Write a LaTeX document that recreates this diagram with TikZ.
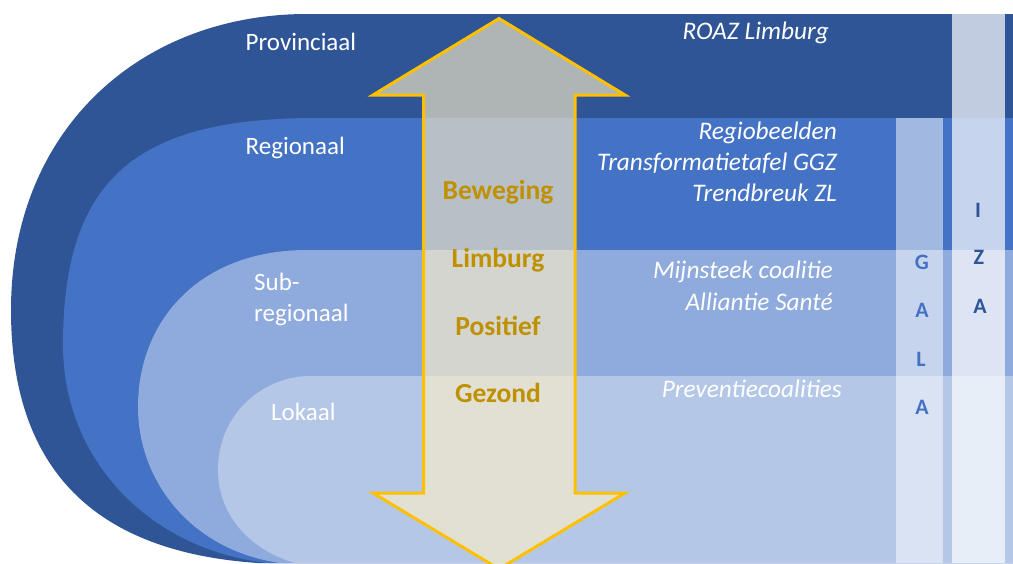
\documentclass[tikz,border=0pt]{standalone}
\usepackage{fontspec}
\setmainfont{Carlito}
\definecolor{prov}{HTML}{2F5597}
\definecolor{regio}{HTML}{4472C4}
\definecolor{subr}{HTML}{8FAADC}
\definecolor{lok}{HTML}{B4C7E7}
\definecolor{arrowline}{HTML}{FFC000}
\definecolor{arrowfill}{RGB}{255,240,200}
\definecolor{arrowtext}{HTML}{BF9000}
\tikzset{
  levellabel/.style={text=white, anchor=base west, inner sep=0pt, font=\fontsize{25}{30}\selectfont},
  initiative/.style={text=white, anchor=base east, inner sep=0pt, font=\fontsize{25.3}{30}\selectfont\itshape},
  arrowword/.style={text=arrowtext, anchor=base, inner sep=0pt, font=\fontsize{27.5}{33}\selectfont\bfseries},
  galaletter/.style={text=regio, anchor=center, inner sep=0pt, font=\fontsize{22}{26}\selectfont\bfseries},
  izaletter/.style={text=prov, anchor=center, inner sep=0pt, font=\fontsize{22}{26}\selectfont\bfseries},
  bigarrow/.style={draw=arrowline, line width=3pt, line join=miter, fill=arrowfill, fill opacity=0.62}
}
\begin{document}
\begin{tikzpicture}[x=1pt,y=-1pt]
\useasboundingbox (0,0) rectangle (1013,563);
\begin{scope}
\clip (0,0) rectangle (1013,563);
% levels
\fill[prov] (1013,14) -- (307,14) .. controls (140,14) and (11,130) .. (11,310)
  .. controls (11,470) and (95,552) .. (258,563) -- (1013,563) -- cycle;
\fill[regio] (1013,118) -- (317,118) .. controls (140,118) and (63,175) .. (63,345)
  .. controls (63,460) and (150,550) .. (268,563) -- (1013,563) -- cycle;
\fill[subr] (1013,250) -- (307,250) .. controls (200,250) and (138,320) .. (138,407)
  .. controls (138,480) and (190,550) .. (280,563) -- (1013,563) -- cycle;
\fill[lok] (1013,376) -- (310,376) .. controls (265,376) and (218,412) .. (218,470)
  .. controls (218,515) and (250,550) .. (295,563) -- (1013,563) -- cycle;
% vertical bars
\fill[white, opacity=0.5] (896,118) rectangle (943,563);
\fill[white, opacity=0.7] (952,14) rectangle (1005,563);
% double arrow
\draw[bigarrow] (499,18.5) -- (625,95) -- (575,95) -- (575,493) -- (625,493) -- (499,569)
  -- (373,493) -- (423.5,493) -- (423.5,95) -- (373,95) -- cycle;
\end{scope}
% level labels
\node[levellabel] (provinciaal) at (245.5,50) {Provinciaal};
\node[levellabel] (regionaal) at (245.5,154) {Regionaal};
\node[levellabel] (sub) at (254,290) {Sub-};
\node[levellabel] (subregionaal) at (254,321) {regionaal};
\node[levellabel] (lokaal) at (271,420) {Lokaal};
% initiatives
\node[initiative] (roaz) at (829,39) {ROAZ Limburg};
\node[initiative] (regiobeelden) at (837,139) {Regiobeelden};
\node[initiative] (transformatie) at (837,170) {Transformatietafel GGZ};
\node[initiative] (trendbreuk) at (837,201) {Trendbreuk ZL};
\node[initiative] (mijnsteek) at (833,278) {Mijnsteek coalitie};
\node[initiative] (alliantie) at (833,310) {Alliantie Santé};
\node[initiative] (preventie) at (842,397) {Preventiecoalities};
% arrow words
\node[arrowword] (beweging) at (498,199) {Beweging};
\node[arrowword] (limburg) at (498,267) {Limburg};
\node[arrowword] (positief) at (498,335) {Positief};
\node[arrowword] (gezond) at (498,402) {Gezond};
% GALA
\node[galaletter] (g1) at (922,262) {G};
\node[galaletter] (g2) at (922,310) {A};
\node[galaletter] (g3) at (921,359) {L};
\node[galaletter] (g4) at (922,407) {A};
% IZA
\node[izaletter] (i1) at (978,210) {I};
\node[izaletter] (i2) at (979,257) {Z};
\node[izaletter] (i3) at (980,306) {A};
\end{tikzpicture}
\end{document}
